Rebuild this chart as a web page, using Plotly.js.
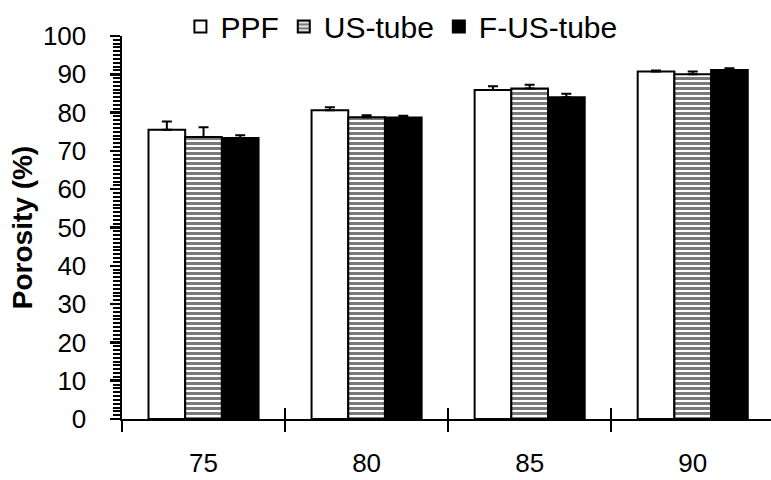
<!DOCTYPE html>
<html>
<head>
<meta charset="utf-8">
<script src="https://cdn.plot.ly/plotly-3.0.1.min.js"></script>
<style>html,body{margin:0;padding:0;background:#fff;}#chart{width:771px;height:480px;}</style>
</head>
<body>
<div id="chart"></div>
<script>
var categories = ["75", "80", "85", "90"];
var seriesNames = ["PPF", "US-tube", "F-US-tube"];
var ppf = [75.5, 80.6, 85.9, 90.7];
var ppfErr = [2.2, 0.8, 1.0, 0.3];
var usTube = [73.6, 78.8, 86.3, 90.0];
var usTubeErr = [2.6, 0.5, 1.0, 0.7];
var fusTube = [73.4, 78.7, 84.0, 91.1];
var fusTubeErr = [0.7, 0.5, 0.9, 0.5];
var yRange = [0, 100];
var yMajorStep = 10;
var yMinorStep = 1;

function err(a) {
  return {type: 'data', array: a, arrayminus: a.map(function(){return 0;}), symmetric: false,
          visible: true, color: '#000', thickness: 2, width: 5};
}

var traces = [
  {type: 'bar', name: seriesNames[0], x: categories, y: ppf, error_y: err(ppfErr),
   marker: {color: '#ffffff', line: {color: '#000', width: 2}}},
  {type: 'bar', name: seriesNames[1], x: categories, y: usTube, error_y: err(usTubeErr),
   marker: {color: '#ffffff', line: {color: '#000', width: 2},
            pattern: {shape: '-', size: 5, solidity: 0.6, fgcolor: '#7a7a7a', bgcolor: '#ffffff', fillmode: 'replace'}}},
  {type: 'bar', name: seriesNames[2], x: categories, y: fusTube, error_y: err(fusTubeErr),
   marker: {color: '#000000', line: {color: '#000', width: 2}}},
  {type: 'bar', x: categories, y: categories.map(function(){return 0;}), xaxis: 'x2', yaxis: 'y',
   showlegend: false, hoverinfo: 'skip', marker: {color: 'rgba(0,0,0,0)'}}
];

var layout = {
  width: 771, height: 480,
  margin: {l: 122, r: 0, t: 33, b: 61},
  paper_bgcolor: '#fff', plot_bgcolor: '#fff',
  font: {family: 'Liberation Sans, Arial, sans-serif', color: '#000'},
  barmode: 'group', bargap: 0.325, bargroupgap: 0,
  showlegend: true,
  legend: {orientation: 'h', x: 0.09, xanchor: 'left', y: 1.025, yanchor: 'middle',
           font: {size: 30, color: '#000'}, bgcolor: 'rgba(0,0,0,0)', traceorder: 'normal'},
  xaxis: {type: 'category', range: [-0.5, 3.48], showline: true, linecolor: '#000', linewidth: 2,
          ticks: 'outside', ticklen: 11, tickwidth: 2, tickcolor: '#000', tickson: 'boundaries',
          tickfont: {size: 26}, ticklabelstandoff: 20, showgrid: false, zeroline: false, fixedrange: true},
  xaxis2: {type: 'category', overlaying: 'x', matches: 'x', range: [-0.5, 3.48], showline: false,
           ticks: 'inside', ticklen: 11, tickwidth: 2, tickcolor: '#000', tickson: 'boundaries',
           showticklabels: false, showgrid: false, zeroline: false},
  yaxis: {range: yRange, tickmode: 'linear', tick0: yRange[0], dtick: yMajorStep,
          showline: true, linecolor: '#000', linewidth: 2.5,
          ticks: 'outside', ticklen: 10, tickwidth: 2.5, tickcolor: '#000',
          minor: {tickmode: 'linear', tick0: yRange[0], dtick: yMinorStep, ticks: 'outside', ticklen: 7,
                  tickwidth: 2, tickcolor: '#000', showgrid: false},
          tickfont: {size: 26}, ticklabelstandoff: 18, showgrid: false, zeroline: false,
          title: {text: '<b>Porosity (%)</b>', font: {size: 28}, standoff: 2}}
};

Plotly.newPlot('chart', traces, layout, {staticPlot: true});
</script>
</body>
</html>
